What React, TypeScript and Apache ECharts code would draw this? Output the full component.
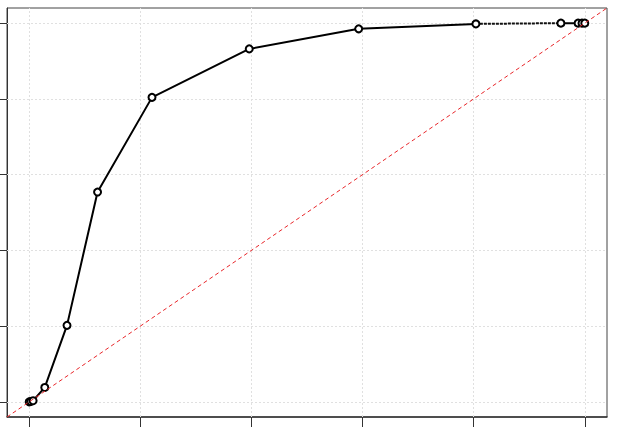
import React, { useEffect, useRef } from "react";
import * as echarts from "echarts";

const fpr = [0.0, 0.003, 0.007, 0.028, 0.068, 0.123, 0.221, 0.396, 0.593, 0.804];
const tpr = [0.0, 0.001, 0.003, 0.038, 0.202, 0.554, 0.804, 0.932, 0.985, 0.998];
const tailFpr = [0.804, 0.957, 0.988, 0.995, 1.0];
const tailTpr = [0.998, 1.0, 1.0, 1.0, 1.0];
const tickValues = [0, 0.2, 0.4, 0.6, 0.8, 1.0];
const axisMin = -0.04;
const axisMax = 1.04;

export default function App() {
  const ref = useRef<HTMLDivElement>(null);
  useEffect(() => {
    document.body.style.margin = "0";
    const chart = echarts.init(ref.current!, null, { renderer: "svg" });
    const mainPts = fpr.map((x, i) => [x, tpr[i]]);
    const tailPts = tailFpr.map((x, i) => [x, tailTpr[i]]);
    const gridStyle = { color: "#e0e0e0", type: [2, 2] as any, width: 1 };
    chart.setOption({
      animation: false,
      grid: { left: 7, top: 8, width: 600, height: 409, show: true, borderColor: "#444", borderWidth: 1, backgroundColor: "#fff" },
      xAxis: {
        type: "value", min: axisMin, max: axisMax,
        axisLine: { show: true, onZero: false, lineStyle: { color: "#333", width: 1.5 } },
        axisTick: { show: true, customValues: tickValues, length: 10, inside: false, lineStyle: { color: "#333", width: 1 } },
        axisLabel: { show: false },
        splitLine: { show: false },
      },
      yAxis: {
        type: "value", min: axisMin, max: axisMax,
        axisLine: { show: true, onZero: false, lineStyle: { color: "#333", width: 1 } },
        axisTick: { show: true, customValues: tickValues, length: 7, inside: false, lineStyle: { color: "#333", width: 1 } },
        axisLabel: { show: false },
        splitLine: { show: false },
      },
      series: [
        {
          type: "line",
          data: [],
          silent: true,
          z: 1,
          markLine: {
            z: 1,
            silent: true, symbol: "none", label: { show: false },
            lineStyle: gridStyle,
            data: [
              ...tickValues.map((v) => ({ xAxis: v })),
              ...tickValues.map((v) => ({ yAxis: v })),
            ],
          },
        },
        {
          type: "line",
          data: tailPts.slice(0, 2),
          symbol: "none",
          lineStyle: { color: "#111", width: 2, type: [3, 1] },
          z: 12,
        },
        {
          type: "line",
          data: mainPts,
          symbol: "none",
          lineStyle: { color: "#000", width: 2 },
          z: 13,
        },
        {
          type: "line",
          data: tailPts.slice(1),
          symbol: "none",
          lineStyle: { color: "#000", width: 2 },
          z: 13,
        },
        {
          type: "scatter",
          data: [...mainPts, ...tailPts.slice(1)],
          symbol: "circle",
          symbolSize: 7,
          itemStyle: { color: "#fff", borderColor: "#000", borderWidth: 2, opacity: 1 },
          z: 14,
        },
        {
          type: "line",
          data: [[axisMin, axisMin], [axisMax, axisMax]],
          symbol: "none",
          lineStyle: { color: "#e8262a", width: 1, type: [4, 3] },
          z: 15,
        },
      ],
    });
    return () => chart.dispose();
  }, []);
  return <div ref={ref} style={{ width: 618, height: 427 }} />;
}
